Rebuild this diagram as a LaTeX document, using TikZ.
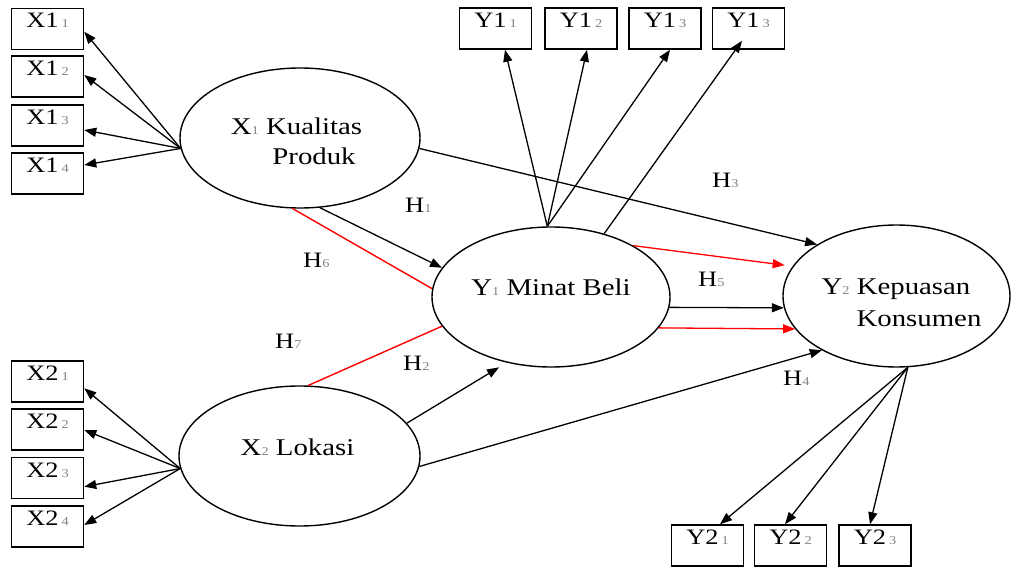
\documentclass[tikz,border=0pt]{standalone}
\usepackage{fontspec}
\setmainfont{Liberation Serif}[FakeStretch=1.2]
\usetikzlibrary{arrows.meta,shapes.geometric}
\definecolor{subgray}{RGB}{130,130,130}
\definecolor{hred}{RGB}{255,0,0}
\newcommand\sbs[1]{{\fontsize{12}{12}\selectfont\color{subgray}#1}}
\newcommand\bxl[2]{#1\kern3pt\sbs{#2}}
\begin{document}
\begin{tikzpicture}[x=1pt,y=-1pt,
  ind/.style={draw, line width=1.5pt, minimum width=72pt, minimum height=41pt,
    inner sep=0pt, text height=16pt, text depth=18pt, font=\fontsize{22}{22}\selectfont},
  lat/.style={draw, ellipse, line width=1.4pt, inner sep=0pt},
  lt/.style={inner sep=0pt, anchor=base, font=\fontsize{24}{24}\selectfont},
  hl/.style={inner sep=0pt, anchor=base west, font=\fontsize{22}{22}\selectfont},
  arr/.style={-{Triangle[length=12pt,width=9pt]}, line width=1.3pt},
  redl/.style={draw=hred, line width=1.4pt},
  redarr/.style={arr, draw=hred, fill=hred}]
\useasboundingbox (0,0) rectangle (1013,567);
% indicator boxes
\node[ind] (x11) at (47.5,29) {\bxl{X1}{1}};
\node[ind] (x12) at (47.5,76.5) {\bxl{X1}{2}};
\node[ind] (x13) at (47.5,125.5) {\bxl{X1}{3}};
\node[ind] (x14) at (47.5,173.5) {\bxl{X1}{4}};
\node[ind] (x21) at (47.5,381.5) {\bxl{X2}{1}};
\node[ind] (x22) at (47.5,429.5) {\bxl{X2}{2}};
\node[ind] (x23) at (47.5,478) {\bxl{X2}{3}};
\node[ind] (x24) at (47.5,526.5) {\bxl{X2}{4}};
\node[ind] (y11) at (495.5,28.5) {\bxl{Y1}{1}};
\node[ind] (y12) at (581,28.5) {\bxl{Y1}{2}};
\node[ind] (y13) at (665,28.5) {\bxl{Y1}{3}};
\node[ind] (y14) at (748.5,28.5) {\bxl{Y1}{3}};
\node[ind] (y21) at (707.5,545.5) {\bxl{Y2}{1}};
\node[ind] (y22) at (790.5,545.5) {\bxl{Y2}{2}};
\node[ind] (y23) at (875,545.5) {\bxl{Y2}{3}};
% latent variables
\node[lat, minimum width=240pt, minimum height=140pt] (x1) at (300,138) {};
\node[lat, minimum width=241pt, minimum height=140pt] (x2) at (299.5,456) {};
\node[lat, minimum width=238pt, minimum height=140pt] (y1) at (551,297) {};
\node[lat, minimum width=227pt, minimum height=142pt] (y2) at (896.5,296) {};
\node[lt] (x1a) at (296.5,135) {X\sbs{1} Kualitas};
\node[lt] (x1b) at (314,165) {Produk};
\node[lt] (x2a) at (297.5,455) {X\sbs{2} Lokasi};
\node[lt] (y1a) at (551,295) {Y\sbs{1} Minat Beli};
\node[lt] (y2a) at (896,294) {Y\sbs{2} Kepuasan};
\node[lt] (y2b) at (919,326) {Konsumen};
% hypothesis labels
\node[hl] (h1) at (405,212) {H\sbs{1}};
\node[hl] (h6) at (303,267) {H\sbs{6}};
\node[hl] (h7) at (275,348) {H\sbs{7}};
\node[hl] (h2) at (403,370) {H\sbs{2}};
\node[hl] (h3) at (712,188) {H\sbs{3}};
\node[hl] (h5) at (698,287) {H\sbs{5}};
\node[hl] (h4) at (783,385) {H\sbs{4}};
% measurement arrows
\draw[arr] (x1.185) -- ([yshift=-2.7pt]x11.east);
\draw[arr] (x1.185) -- ([yshift=1.5pt]x12.east);
\draw[arr] (x1.185) -- ([yshift=-4.5pt]x13.east);
\draw[arr] (x1.185) -- ([yshift=8.5pt]x14.east);
\draw[arr] (x2.186) -- ([yshift=-6.8pt]x21.east);
\draw[arr] (x2.186) -- ([yshift=-0.5pt]x22.east);
\draw[arr] (x2.186) -- ([yshift=-8.7pt]x23.east);
\draw[arr] (x2.186) -- ([yshift=1.5pt]x24.east);
\draw[arr] (y1.93) -- ([xshift=9.5pt]y11.south);
\draw[arr] (y1.93) -- ([xshift=6pt]y12.south);
\draw[arr] (y1.93) -- ([xshift=5pt]y13.south);
\draw[arr] (y1.50) -- ([xshift=-6.5pt,yshift=9pt]y14.south);
\draw[arr] (y2.279) -- ([xshift=12.5pt]y21.north);
\draw[arr] (y2.279) -- ([xshift=-5.5pt]y22.north);
\draw[arr] (y2.279) -- ([xshift=-5pt]y23.north);
% structural paths
\draw[arr] (x1.286) -- (y1.165);
\draw[redl] (x1.264) -- (y1.176);
\draw[redl] (x2.83) -- (y1.195);
\draw[arr, shorten >=9pt] (x2.17) -- (y1.236);
\draw[arr] (x1.355) -- (y2.147);
\draw[arr] (x2.355) -- (y2.216);
\draw[arr] (y1.355) -- (y2.186);
\draw[redarr, shorten >=8pt] (y1.32) -- (y2.164);
\draw[redarr] (y1.344) -- (y2.198);
\end{tikzpicture}
\end{document}
